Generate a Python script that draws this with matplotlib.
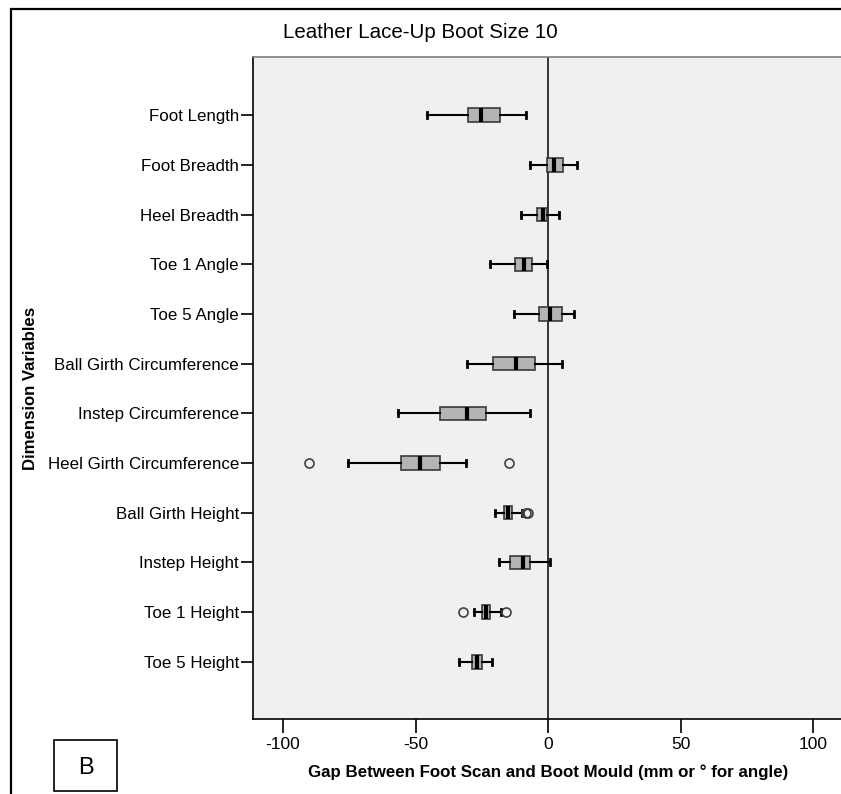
import matplotlib
matplotlib.use('Agg')
import matplotlib.pyplot as plt
from matplotlib import font_manager
from matplotlib.patches import Rectangle

# values
labels = ['Foot Length', 'Foot Breadth', 'Heel Breadth', 'Toe 1 Angle', 'Toe 5 Angle',
          'Ball Girth Circumference', 'Instep Circumference', 'Heel Girth Circumference',
          'Ball Girth Height', 'Instep Height', 'Toe 1 Height', 'Toe 5 Height']
whis_lo = [-45.8, -6.7, -10.1, -21.8, -13.0, -30.7, -56.7, -75.6, -20.0, -18.6, -27.8, -33.6]
q1 = [-30.1, -0.5, -4.3, -12.3, -3.3, -20.6, -40.6, -55.5, -16.6, -14.2, -25.0, -28.8]
median = [-25.3, 2.4, -2.0, -9.2, 0.9, -12.1, -30.6, -48.3, -15.0, -9.6, -23.4, -26.8]
q3 = [-18.2, 5.5, -0.3, -5.9, 5.2, -5.0, -23.5, -40.6, -13.5, -7.0, -21.9, -24.9]
whis_hi = [-8.4, 10.9, 4.0, -0.3, 9.7, 5.2, -6.8, -30.9, -9.9, 0.6, -17.7, -21.0]
outliers = [[], [], [], [], [], [], [], [-90.3, -14.8], [-8.3, -7.4], [], [-32.2, -15.8], []]

xticks = [-100, -50, 0, 50, 100]

names = {f.name for f in font_manager.fontManager.ttflist}
narrow = 'Liberation Sans Narrow' if 'Liberation Sans Narrow' in names else 'Liberation Sans'
plt.rcParams['font.family'] = [narrow, 'DejaVu Sans']

W, H = 841, 794
fig = plt.figure(figsize=(W / 100, H / 100), dpi=100)
ax = fig.add_axes([253 / W, 1 - 719 / H, (845 - 253) / W, (719 - 57) / H])
ax.set_facecolor('#f0f0f0')

stats = []
for i in range(len(labels)):
    stats.append({'label': labels[i], 'whislo': whis_lo[i], 'q1': q1[i], 'med': median[i],
                  'q3': q3[i], 'whishi': whis_hi[i], 'fliers': outliers[i]})

pos = list(range(1, len(labels) + 1))
ax.axvline(0, color='black', lw=1.1, zorder=1)
ax.bxp(stats, positions=pos, orientation='horizontal', widths=0.27, patch_artist=True,
       capwidths=0.12,
       boxprops=dict(facecolor='#b4b4b4', edgecolor='#3a3a3a', lw=1.2),
       medianprops=dict(color='black', lw=3),
       whiskerprops=dict(color='black', lw=1.5),
       capprops=dict(color='black', lw=2),
       flierprops=dict(marker='o', mfc='none', mec='#404040', ms=6.5, mew=1.2))

ax.set_xlim(-111.3, 112)
ax.set_ylim(13.15, -0.17)
ax.set_yticks(pos)
ax.set_yticklabels(labels, fontsize=12.2)
ax.set_xticks(xticks)
ax.set_xticklabels([str(t) for t in xticks], fontsize=12.5)
ax.tick_params(axis='y', length=9, width=1.2, pad=1)
ax.tick_params(axis='x', length=10, width=1.2, pad=3)

for s in ['left', 'bottom']:
    ax.spines[s].set_color('black')
    ax.spines[s].set_linewidth(1.2)
ax.spines['top'].set_color('#808080')
ax.spines['top'].set_linewidth(1.2)
ax.spines['right'].set_visible(False)

# outer frame
fig.patches.append(Rectangle((11 / W, -0.05), 1.0, 1 - 9 / H + 0.05, transform=fig.transFigure,
                             fill=False, ec='black', lw=1.6))

fig.text(420 / W, 1 - 33 / H, 'Leather Lace-Up Boot Size 10', ha='center', va='center', fontsize=14.8)
fig.text(31 / W, 1 - 388 / H, 'Dimension Variables', rotation=90, ha='center', va='center',
         fontsize=12.1, fontweight='bold')
fig.text(548 / W, 1 - 772 / H, 'Gap Between Foot Scan and Boot Mould (mm or \u00b0 for angle)',
         ha='center', va='center', fontsize=12.2, fontweight='bold')

# panel letter
fig.patches.append(Rectangle((54 / W, 1 - 791 / H), 63 / W, 51 / H, transform=fig.transFigure,
                             fill=False, ec='black', lw=1.2))
fig.text(86 / W, 1 - 768 / H, 'B', ha='center', va='center', fontsize=17, family='Liberation Sans')

fig.savefig('out.png', dpi=100)
